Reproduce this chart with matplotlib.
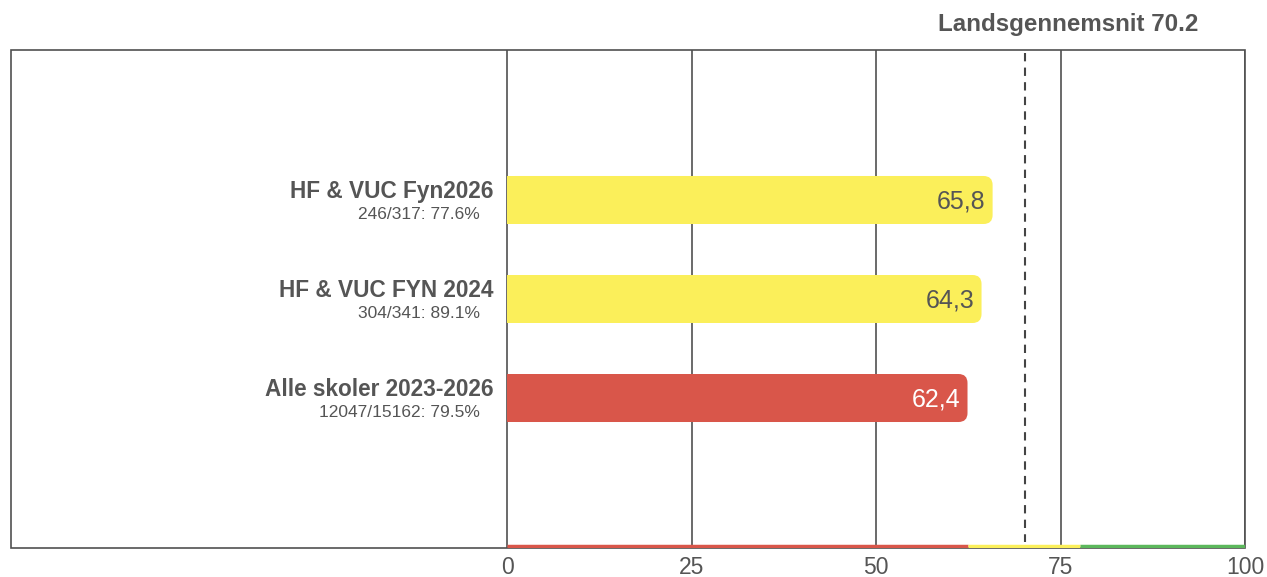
import matplotlib.pyplot as plt
from matplotlib.patches import FancyBboxPatch, Rectangle

plt.rcParams['font.family'] = ['Liberation Sans', 'DejaVu Sans']

# data
names = ['HF & VUC Fyn2026', 'HF & VUC FYN 2024', 'Alle skoler 2023-2026']
subs = ['246/317: 77.6%', '304/341: 89.1%', '12047/15162: 79.5%']
values = [65.8, 64.3, 62.4]
labels = ['65,8', '64,3', '62,4']
bar_colors = ['#fbef5a', '#fbef5a', '#d9564a']
label_colors = ['#555555', '#555555', '#ffffff']
avg = 70.2
bands = [(0, 62.4, '#d9564a'), (62.4, 77.6, '#fbef5a'), (77.6, 100, '#5cb85c')]
xticks = [0, 25, 50, 75, 100]

W, H = 1267, 577
fig = plt.figure(figsize=(W / 100, H / 100), dpi=100)
# axes from x=11..1245 px, y=50..548 px
ax = fig.add_axes([11 / W, 1 - 548 / H, 1234 / W, 498 / H])
px = 738 / 100  # px per unit
xl = -496 / px
ax.set_xlim(xl, 100)
ax.set_ylim(3.515, -1.515)
ax.axis('off')

edge = '#505050'
# outer border
ax.add_patch(Rectangle((xl, -1.515), 100 - xl, 5.03, fill=False, ec=edge, lw=1.2,
                       transform=ax.transData, clip_on=False, zorder=1))
for t in xticks:
    ax.plot([t, t], [-1.515, 3.515], color=edge, lw=1.2, zorder=1, solid_capstyle='butt')
    ax.text(t, 3.515 + 0.08, str(t), ha='center', va='top', fontsize=16.5, color='#555555')

ax.plot([avg, avg], [-1.48, 3.45], color='#444444', lw=1.5, ls=(0, (4, 3)), zorder=2)
ax.text(76.0, -1.66, 'Landsgennemsnit %.1f' % avg, ha='center', va='bottom', fontsize=17.4,
        fontweight='bold', color='#555555')

for b0, b1, c in bands:
    ax.plot([b0, b1], [3.49, 3.49], color=c, lw=2.5, solid_capstyle='butt', zorder=3)

bh = 48 / 99
r = 9 / px
for i, (v, c) in enumerate(zip(values, bar_colors)):
    ax.add_patch(FancyBboxPatch((0, i - bh / 2), v, bh,
                                boxstyle='round,pad=0,rounding_size=%f' % r,
                                mutation_aspect=px / 99, fc=c, ec='none', zorder=4))
    ax.add_patch(Rectangle((0, i - bh / 2), v - 2 * r, bh, fc=c, ec='none', zorder=4))
    ax.text(v - 1.0, i + 0.02, labels[i], ha='right', va='center', fontsize=18,
            color=label_colors[i], zorder=5)
    ax.text(-1.8, i - 0.09, names[i], ha='right', va='center', fontsize=16.3,
            fontweight='bold', color='#555555')
    ax.text(-3.7, i + 0.15, subs[i], ha='right', va='center', fontsize=12.5,
            color='#555555')

fig.savefig('out.png', dpi=100)
